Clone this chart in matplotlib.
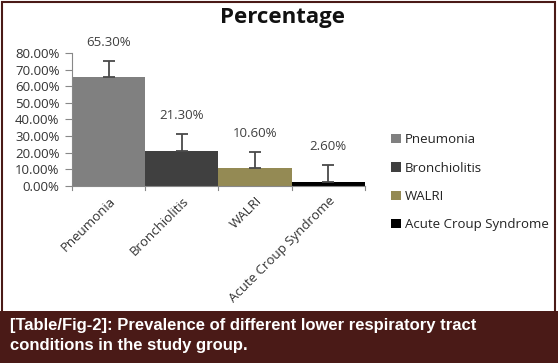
import matplotlib
matplotlib.use("Agg")
import matplotlib.pyplot as plt
from matplotlib.patches import Rectangle

categories = ["Pneumonia", "Bronchiolitis", "WALRI", "Acute Croup Syndrome"]
values = [65.3, 21.3, 10.6, 2.6]
errors = [10.0, 10.0, 10.0, 10.0]
colors = ["#808080", "#404040", "#948a54", "#000000"]
caption = "[Table/Fig-2]: Prevalence of different lower respiratory tract\nconditions in the study group."

plt.rcParams['font.family'] = ['Open Sans', 'DejaVu Sans']

fig = plt.figure(figsize=(5.58, 3.63), dpi=100)
ax = fig.add_axes([0.129, 0.4876, 0.525, 0.3664])

xs = list(range(len(categories)))
bars = ax.bar(xs, values, width=1.0, color=colors, label=categories, zorder=2)
ax.errorbar(xs, values, yerr=[[0]*len(values), errors], fmt='none',
            ecolor='#4a4a4a', elinewidth=1.3, capsize=4, capthick=1.3, zorder=3)

for x, v in zip(xs, values):
    ax.text(x, v + 21, "%.2f%%" % v, ha='center', va='center', fontsize=9.5,
            color='#404040', clip_on=False)

ax.set_xlim(-0.5, 3.5)
ax.set_ylim(0, 80)
ax.set_yticks(range(0, 81, 10))
ax.set_yticklabels(["%.2f%%" % t for t in range(0, 81, 10)], fontsize=9.5, color='#333333')
ax.tick_params(axis='y', length=5, color='#888888', pad=4)

ax.set_xticks(xs)
ax.set_xticklabels(categories, rotation=45, ha='right', rotation_mode='anchor',
                   fontsize=9.5, color='#333333')
ax.tick_params(axis='x', length=0, pad=6)
for b in [-0.5, 0.5, 1.5, 2.5, 3.5]:
    ax.plot([b, b], [0, -2.5], color='#888888', lw=0.8, clip_on=False)

for s in ['top', 'right']:
    ax.spines[s].set_visible(False)
ax.spines['left'].set_color('#888888')
ax.spines['bottom'].set_color('#888888')

fig.text(0.506, 0.952, "Percentage", ha='center', va='center', fontsize=16,
         fontweight='bold', color='#111111')

leg = fig.legend(handles=bars, labels=categories, loc='upper left',
                 bbox_to_anchor=(0.68, 0.665), frameon=False, fontsize=9.5,
                 handlelength=0.7, handleheight=0.7, handletextpad=0.3,
                 labelspacing=1.15)
for t in leg.get_texts():
    t.set_color('#222222')

# caption band and frame
fig.patches.append(Rectangle((0, 0), 1, 0.143, transform=fig.transFigure,
                             facecolor='#4a1a17', edgecolor='none', zorder=0))
fig.patches.append(Rectangle((0.004, 0.0), 0.99, 0.994, transform=fig.transFigure,
                             facecolor='none', edgecolor='#4a1a17', lw=1.5, zorder=5))
fig.text(0.018, 0.076, caption, ha='left', va='center', fontsize=12,
         fontweight='bold', color='white', family=['Liberation Sans', 'DejaVu Sans'],
         linespacing=1.35)

fig.savefig("out.png", dpi=100)
